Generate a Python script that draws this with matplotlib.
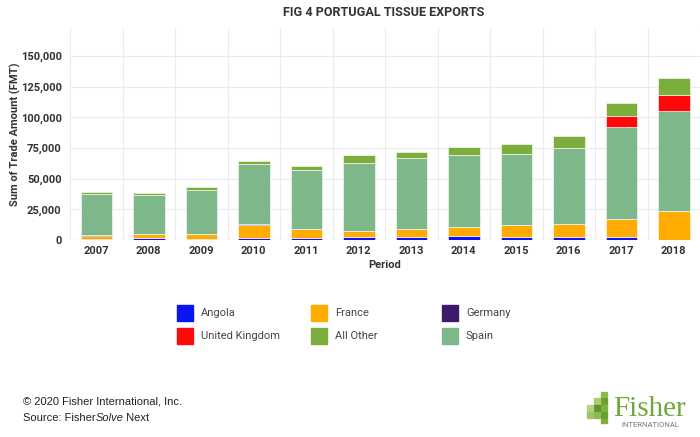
import numpy as np
import matplotlib
matplotlib.use("Agg")
import matplotlib.pyplot as plt
from matplotlib.patches import Rectangle

# ── data (FMT) ────────────────────────────────────────────────────────
years = ["2007", "2008", "2009", "2010", "2011", "2012",
         "2013", "2014", "2015", "2016", "2017", "2018"]
angola = [500, 1500, 700, 1500, 1300, 2200, 2200, 3300, 2200, 2700, 2200, 0]
france = [2500, 3000, 4200, 10500, 7400, 5400, 6500, 7100, 10100, 10400, 15000, 23700]
germany = [800, 300, 300, 1300, 200, 0, 0, 0, 0, 0, 0, 0]
spain = [33800, 32000, 35400, 48600, 48600, 55600, 58400, 58900, 58000, 62200, 74700, 81300]
united_kingdom = [0, 0, 0, 0, 0, 0, 0, 0, 0, 0, 9000, 13600]
all_other = [1400, 1600, 2500, 2700, 2700, 6100, 4900, 6500, 8200, 9200, 10600, 13900]

series = [
    ("Angola", angola, "#0a14f5"),
    ("France", france, "#ffab00"),
    ("Germany", germany, "#3d1a6b"),
    ("Spain", spain, "#7db78a"),
    ("United Kingdom", united_kingdom, "#ff0a0a"),
    ("All Other", all_other, "#7bae3c"),
]
legend_order = ["Angola", "France", "Germany", "United Kingdom", "All Other", "Spain"]

plt.rcParams["font.family"] = ["Roboto", "DejaVu Sans"]

fig = plt.figure(figsize=(7, 4.37), dpi=100)
ax = fig.add_axes([0.1, 0.4508, 0.9, 0.4852])

x = np.arange(len(years))
bottom = np.zeros(len(years))
for name, vals, col in series:
    vals = np.array(vals, dtype=float)
    ax.bar(x, vals, width=0.6, bottom=bottom, color=col,
           edgecolor="white", linewidth=0.4, zorder=3)
    bottom += vals

ax.set_xlim(-0.5, 11.37)
ax.set_ylim(0, 173000)
ax.set_yticks(np.arange(0, 150001, 25000))
ax.set_yticklabels([f"{v:,}" for v in range(0, 150001, 25000)])
ax.set_xticks(x)
ax.set_xticklabels(years)
ax.set_xticks(np.arange(-0.5, 12, 1), minor=True)

ax.grid(axis="y", color="#e9e9ef", linewidth=0.8, zorder=0)
ax.grid(axis="x", which="minor", color="#ececf0", linewidth=0.8, zorder=0)
for s in ax.spines.values():
    s.set_visible(False)
ax.axhline(0, color="#cfcfe6", linewidth=0.8, zorder=2)
ax.tick_params(axis="both", which="both", length=0)
ax.tick_params(axis="y", labelsize=8, labelcolor="#333333", pad=6)
ax.tick_params(axis="x", labelsize=8, labelcolor="#333333", pad=4)
for lab in ax.get_xticklabels() + ax.get_yticklabels():
    lab.set_fontweight("bold")

ax.set_ylabel("Sum of Trade Amount (FMT)", fontsize=8, fontweight="bold",
              color="#333333")
ax.yaxis.set_label_coords((21 - 70) / 630, 0.5)
ax.set_xlabel("Period", fontsize=8, fontweight="bold", color="#333333", labelpad=3)

fig.text(384 / 700, 1 - 12 / 437, "FIG 4 PORTUGAL TISSUE EXPORTS", ha="center",
         va="center", fontsize=9.1, fontweight="bold", color="#333333")

# ── legend drawn by hand ─────────────────────────────────────────────
colors = {name: col for name, _, col in series}
col_x = [177, 311, 442]
row_y = [313, 336]
for i, name in enumerate(legend_order):
    cx = col_x[i % 3]
    cy = row_y[i // 3]
    fig.add_artist(Rectangle((cx / 700, 1 - (cy + 8) / 437), 16 / 700, 16 / 437,
                             transform=fig.transFigure, color=colors[name]))
    fig.text((cx + 24) / 700, 1 - cy / 437, name, ha="left", va="center",
             fontsize=8, color="#444444")

# ── footer ───────────────────────────────────────────────────────────
foot = ["Liberation Sans", "DejaVu Sans"]
fig.text(23 / 700, 1 - 402 / 437, "© 2020 Fisher International, Inc.",
         fontsize=8, family=foot, va="center", color="#222222")
t = fig.text(23 / 700, 1 - 418 / 437, "Source: Fisher", fontsize=8, family=foot,
             va="center", color="#222222")
fig.canvas.draw()
bb = t.get_window_extent()
t2 = fig.text(bb.x1 / 700, 1 - 418 / 437, "Solve", fontsize=8, family=foot,
              style="italic", va="center", color="#222222")
bb2 = t2.get_window_extent(fig.canvas.get_renderer())
fig.text((bb2.x1 - 1) / 700, 1 - 418 / 437, " Next", fontsize=8, family=foot,
         va="center", color="#222222")

# logo
blocks = [(601, 392, 6, 5), (601, 398, 6, 6), (594, 398, 6, 6),
          (601, 405, 6, 6), (594, 405, 6, 6), (587, 405, 6, 6),
          (601, 412, 6, 6), (594, 412, 6, 6), (587, 412, 6, 6),
          (601, 419, 6, 4)]
shades = ["#8dbb4f", "#6a9f35", "#a9cc6e", "#7fb03f", "#5d9430", "#b5d383",
          "#6a9f35", "#8dbb4f", "#9fc665", "#7fb03f"]
for (bx, by, bw, bh), sc in zip(blocks, shades):
    fig.add_artist(Rectangle((bx / 700, 1 - (by + bh) / 437), bw / 700, bh / 437,
                             transform=fig.transFigure, color=sc))
fig.text(650 / 700, 1 - 416 / 437, "Fisher", ha="center", va="baseline",
         fontsize=21, family=["Liberation Serif", "DejaVu Serif"], color="#6fa83a")
fig.text(650 / 700, 1 - 425 / 437, "INTERNATIONAL", ha="center", va="center",
         fontsize=5.5, color="#777777")

fig.savefig("out.png", dpi=100)
